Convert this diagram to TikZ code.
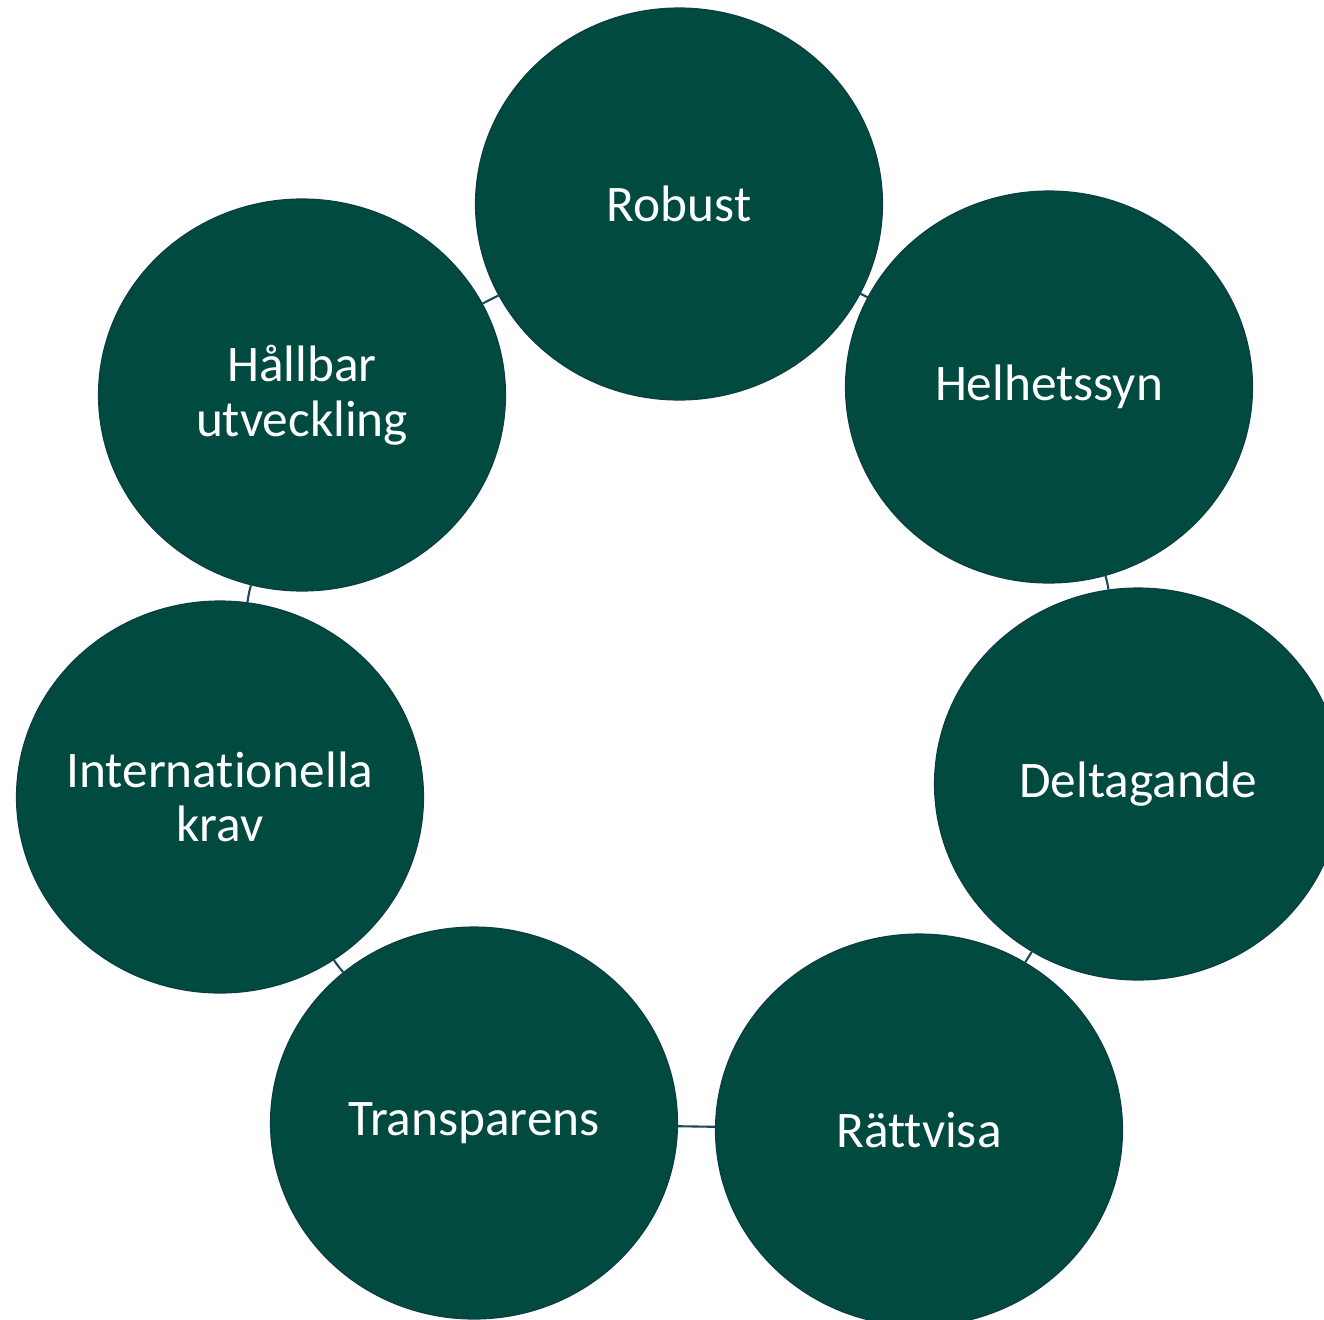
\documentclass[tikz,border=0pt]{standalone}
\usepackage{fontspec}
\setmainfont{Carlito}[Ligatures={NoCommon}]
\usetikzlibrary{shapes.geometric}
\definecolor{circfill}{RGB}{0,74,64}
\definecolor{circline}{RGB}{12,60,70}
\definecolor{linkcol}{RGB}{28,72,88}
\tikzset{
  bubble/.style={ellipse, fill=circfill, draw=circline, line width=0.7pt,
    minimum width=8.14cm, minimum height=7.84cm, inner xsep=-2cm, inner ysep=0pt,
    text=white, align=center, font=\fontsize{29.2}{31}\selectfont},
  link/.style={draw=linkcol, line width=1.2pt}
}
\begin{document}
\begin{tikzpicture}[x={(0.02cm,0)}, y={(0,-0.02cm)}]
  \useasboundingbox (0,0) rectangle (1324,1319);
  \clip (0,0) rectangle (1324,1319);
  % the seven circles
  \node[bubble] (robust)  at (679,204)  {Robust};
  \node[bubble] (helhet)  at (1049,387) {Helhetssyn};
  \node[bubble] (delta)   at (1138,784) {Deltagande};
  \node[bubble] (ratt)    at (919,1130) {Rättvisa};
  \node[bubble] (transp)  at (474,1123) {Transparens};
  \node[bubble] (intkrav) at (220,797)  {Internationella\\krav};
  \node[bubble] (hallbar) at (302,395)  {Hållbar\\utveckling};
  % links between neighbours
  \foreach \a/\b/\bnd in {robust/helhet/0, helhet/delta/4, delta/ratt/0, ratt/transp/0,
                     transp/intkrav/3, intkrav/hallbar/3.5, hallbar/robust/0}{
    \draw[link] (\a) to[bend left=\bnd] (\b);
  }
\end{tikzpicture}
\end{document}
